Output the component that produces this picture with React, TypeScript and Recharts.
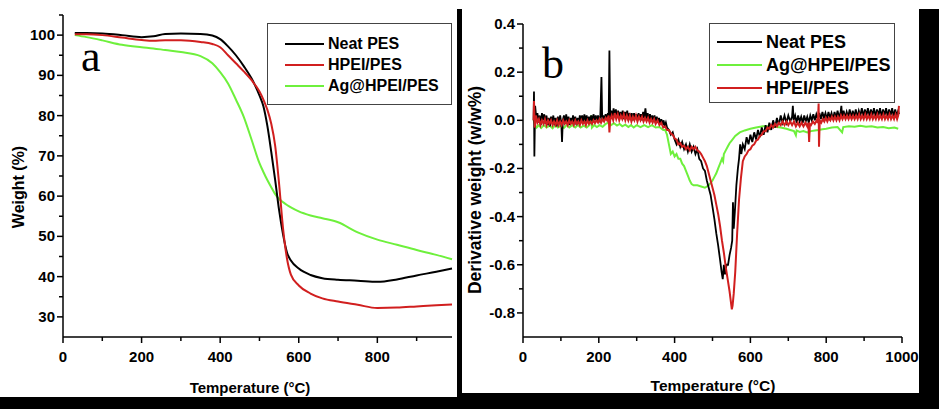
import { LineChart, Line, XAxis, YAxis, Legend } from "recharts";

// TGA (panel a)
const tgaTemp = [30, 60, 100, 150, 200, 230, 260, 300, 350, 380, 400, 420, 440, 460, 480, 500, 510, 520, 530, 540, 550, 560, 570, 580, 600, 630, 660, 700, 750, 800, 850, 900, 950, 990];
const tgaNeat = [100.5, 100.5, 100.4, 100.0, 99.5, 99.7, 100.3, 100.4, 100.3, 99.9, 99.0, 97.2, 95.0, 92.3, 89.2, 85.0, 82.3, 77.5, 71.0, 64.0, 56.5, 50.5, 46.0, 44.0, 42.0, 40.4, 39.6, 39.2, 39.0, 38.7, 39.3, 40.3, 41.2, 42.0];
const tgaHpei = [100.2, 100.2, 100.0, 99.4, 98.8, 98.6, 98.7, 98.7, 98.3, 97.8, 97.0, 95.0, 93.0, 91.0, 88.8, 86.0, 84.0, 81.5, 78.0, 72.5, 63.0, 52.0, 44.5, 40.5, 37.8, 35.8, 34.6, 33.8, 33.0, 32.2, 32.3, 32.6, 32.9, 33.1];
const tgaAg = [100.0, 99.5, 98.7, 97.6, 97.0, 96.7, 96.3, 95.8, 94.8, 93.0, 90.8, 88.0, 84.0, 79.7, 74.0, 68.2, 66.0, 64.0, 62.2, 60.5, 59.3, 58.5, 57.8, 57.2, 56.2, 55.2, 54.5, 53.5, 51.0, 49.2, 47.9, 46.6, 45.4, 44.3];

// DTG (panel b), [temperature, derivative]
const dtgNeat = [[28, 0.0], [29, 0.12], [30, -0.15], [32, 0.06], [35, 0.01], [38, 0.03], [41, -0.01], [44, 0.02], [47, -0.02], [50, 0.03], [53, 0.0], [56, 0.025], [59, -0.015], [62, 0.02], [65, -0.02], [68, 0.01], [71, -0.025], [74, 0.015], [77, -0.01], [80, 0.02], [83, -0.02], [86, 0.01], [89, -0.025], [92, 0.015], [95, -0.015], [98, 0.02], [101, -0.01], [103, -0.09], [105, 0.0], [108, 0.02], [111, -0.015], [114, 0.025], [117, -0.01], [120, 0.015], [123, -0.02], [126, 0.01], [129, -0.015], [132, 0.02], [135, -0.01], [138, 0.015], [141, -0.02], [144, 0.01], [147, -0.015], [150, 0.02], [153, -0.005], [156, 0.02], [159, -0.01], [162, 0.025], [165, -0.005], [168, 0.02], [171, -0.01], [174, 0.015], [177, 0.0], [180, 0.02], [183, -0.005], [186, 0.025], [189, 0.0], [192, 0.02], [195, -0.005], [198, 0.02], [201, 0.0], [204, 0.015], [207, 0.18], [209, 0.0], [212, 0.02], [215, 0.0], [218, 0.025], [221, 0.005], [224, 0.03], [226, 0.0], [228, 0.29], [230, 0.01], [233, 0.04], [236, 0.01], [239, 0.05], [242, 0.015], [245, 0.045], [248, 0.01], [251, 0.04], [254, 0.005], [257, 0.035], [260, 0.01], [263, 0.04], [266, 0.005], [269, 0.035], [272, 0.01], [275, 0.04], [278, 0.0], [281, 0.03], [284, 0.005], [287, 0.03], [290, 0.0], [293, 0.03], [296, 0.005], [299, 0.025], [302, 0.0], [305, 0.03], [308, 0.005], [311, 0.025], [314, 0.0], [317, 0.035], [320, 0.01], [323, 0.05], [326, 0.005], [329, 0.03], [332, 0.0], [335, 0.025], [338, 0.0], [341, 0.02], [344, -0.005], [347, 0.02], [350, -0.01], [353, 0.015], [356, -0.01], [359, 0.01], [362, -0.015], [365, 0.005], [368, -0.02], [371, 0.0], [374, -0.025], [377, -0.01], [380, -0.03], [385, -0.04], [390, -0.06], [395, -0.05], [400, -0.08], [405, -0.1], [410, -0.08], [415, -0.11], [420, -0.09], [425, -0.12], [430, -0.1], [435, -0.13], [440, -0.1], [445, -0.13], [450, -0.11], [455, -0.14], [460, -0.12], [465, -0.16], [470, -0.17], [475, -0.2], [480, -0.21], [485, -0.25], [490, -0.28], [495, -0.31], [500, -0.36], [505, -0.41], [510, -0.47], [515, -0.52], [520, -0.58], [524, -0.63], [527, -0.66], [530, -0.6], [533, -0.64], [537, -0.6], [541, -0.6], [545, -0.56], [549, -0.53], [552, -0.5], [554, -0.34], [556, -0.45], [559, -0.38], [563, -0.27], [567, -0.2], [570, -0.16], [573, -0.1], [576, -0.14], [580, -0.1], [585, -0.12], [590, -0.07], [595, -0.1], [600, -0.06], [605, -0.09], [610, -0.05], [615, -0.08], [620, -0.04], [625, -0.07], [630, -0.03], [635, -0.06], [640, -0.02], [645, -0.05], [650, -0.01], [655, -0.04], [660, 0.0], [665, -0.03], [670, 0.01], [675, -0.02], [680, 0.02], [685, -0.01], [690, 0.02], [695, -0.01], [700, 0.02], [705, -0.005], [710, 0.015], [712, 0.06], [714, 0.0], [718, 0.02], [722, -0.01], [726, 0.02], [730, -0.005], [734, 0.015], [738, -0.01], [742, 0.02], [746, -0.005], [750, 0.015], [754, -0.01], [758, 0.02], [762, 0.0], [766, 0.025], [770, 0.0], [774, 0.025], [778, 0.005], [782, 0.03], [786, 0.005], [790, 0.035], [794, 0.01], [798, 0.03], [802, 0.005], [806, 0.035], [810, 0.01], [814, 0.03], [818, 0.005], [822, 0.035], [826, 0.01], [830, 0.04], [834, 0.01], [838, 0.035], [840, 0.06], [842, 0.015], [846, 0.04], [850, 0.01], [854, 0.035], [858, 0.015], [862, 0.045], [866, 0.01], [870, 0.04], [874, 0.015], [878, 0.045], [882, 0.01], [886, 0.04], [890, 0.02], [894, 0.05], [898, 0.015], [902, 0.045], [906, 0.02], [910, 0.05], [914, 0.015], [918, 0.045], [922, 0.02], [926, 0.05], [930, 0.015], [934, 0.045], [938, 0.02], [942, 0.05], [946, 0.015], [950, 0.045], [954, 0.02], [958, 0.05], [962, 0.015], [966, 0.045], [970, 0.02], [974, 0.05], [978, 0.015], [982, 0.045], [986, 0.02], [990, 0.04], [992, 0.025]];
const dtgHpei = [[28, 0.0], [29, 0.08], [31, -0.03], [34, 0.02], [38, -0.01], [42, 0.005], [46, -0.02], [50, 0.0], [54, -0.015], [58, 0.005], [62, -0.02], [66, 0.0], [70, -0.015], [74, 0.0], [78, -0.02], [82, -0.005], [86, -0.02], [90, 0.0], [94, -0.02], [98, -0.005], [102, -0.02], [106, 0.0], [110, -0.015], [114, -0.005], [118, -0.02], [122, 0.0], [126, -0.015], [130, -0.005], [134, -0.02], [138, 0.0], [142, -0.015], [146, -0.005], [150, -0.02], [154, 0.0], [158, -0.015], [162, -0.005], [166, -0.02], [170, 0.0], [174, -0.015], [178, -0.005], [182, -0.015], [186, 0.0], [190, -0.012], [194, 0.0], [198, -0.01], [202, 0.005], [206, -0.01], [210, 0.005], [214, -0.005], [218, 0.01], [222, 0.0], [226, 0.02], [228, -0.05], [230, 0.0], [234, 0.02], [238, 0.0], [242, 0.03], [246, 0.005], [250, 0.025], [254, 0.0], [258, 0.02], [262, 0.005], [266, 0.025], [270, 0.0], [274, 0.02], [278, 0.0], [282, 0.02], [286, -0.005], [290, 0.015], [294, 0.0], [298, 0.02], [302, -0.005], [306, 0.015], [310, 0.0], [314, 0.015], [318, -0.005], [322, 0.01], [326, -0.005], [330, 0.01], [334, -0.01], [338, 0.005], [342, -0.01], [346, 0.005], [350, -0.015], [355, 0.0], [360, -0.02], [365, -0.01], [370, -0.03], [375, -0.025], [380, -0.04], [385, -0.04], [390, -0.055], [395, -0.06], [400, -0.075], [405, -0.08], [410, -0.1], [415, -0.095], [420, -0.11], [425, -0.105], [430, -0.12], [435, -0.11], [440, -0.125], [445, -0.11], [450, -0.12], [455, -0.11], [460, -0.125], [465, -0.13], [470, -0.14], [475, -0.155], [480, -0.17], [485, -0.19], [490, -0.22], [495, -0.25], [500, -0.28], [505, -0.31], [510, -0.35], [515, -0.39], [520, -0.44], [525, -0.5], [530, -0.55], [535, -0.61], [540, -0.66], [545, -0.71], [549, -0.76], [551, -0.785], [553, -0.77], [556, -0.72], [560, -0.63], [565, -0.47], [570, -0.33], [575, -0.24], [580, -0.17], [585, -0.15], [590, -0.14], [595, -0.125], [600, -0.12], [605, -0.105], [610, -0.1], [615, -0.085], [620, -0.08], [625, -0.065], [630, -0.06], [635, -0.045], [640, -0.045], [645, -0.03], [650, -0.035], [655, -0.02], [660, -0.03], [665, -0.015], [670, -0.025], [675, -0.01], [680, -0.02], [685, -0.005], [690, -0.02], [695, -0.005], [700, -0.02], [705, -0.005], [710, -0.02], [715, -0.005], [720, -0.025], [725, -0.01], [730, -0.025], [735, -0.01], [740, -0.025], [745, -0.01], [750, -0.025], [753, -0.01], [755, -0.09], [757, -0.015], [760, -0.02], [765, -0.005], [770, -0.015], [775, 0.0], [778, -0.01], [780, 0.07], [781, -0.11], [783, 0.0], [787, -0.01], [791, 0.005], [795, -0.005], [799, 0.01], [803, -0.005], [807, 0.01], [811, 0.0], [815, 0.015], [819, 0.0], [823, 0.015], [827, 0.0], [831, 0.015], [835, 0.0], [839, 0.02], [843, 0.005], [847, 0.02], [851, 0.005], [855, 0.02], [859, 0.005], [863, 0.02], [867, 0.005], [871, 0.02], [875, 0.005], [879, 0.02], [883, 0.005], [887, 0.025], [891, 0.005], [895, 0.02], [899, 0.005], [903, 0.025], [907, 0.005], [911, 0.02], [915, 0.005], [919, 0.025], [923, 0.005], [927, 0.02], [931, 0.005], [935, 0.025], [939, 0.005], [943, 0.02], [947, 0.005], [951, 0.025], [955, 0.005], [959, 0.02], [963, 0.005], [967, 0.025], [971, 0.005], [975, 0.02], [979, 0.005], [983, 0.025], [987, 0.005], [990, 0.02], [992, 0.06]];
const dtgAg = [[28, 0.0], [32, -0.02], [36, -0.03], [42, -0.02], [48, -0.032], [55, -0.02], [62, -0.03], [70, -0.022], [78, -0.033], [85, -0.02], [92, -0.03], [100, -0.022], [108, -0.032], [115, -0.02], [122, -0.03], [130, -0.02], [138, -0.03], [145, -0.02], [152, -0.03], [160, -0.022], [168, -0.03], [175, -0.02], [180, 0.02], [182, -0.03], [188, -0.02], [195, -0.028], [202, -0.02], [210, -0.027], [218, -0.015], [225, -0.01], [232, -0.02], [240, -0.012], [248, -0.022], [255, -0.015], [262, -0.025], [270, -0.018], [278, -0.028], [285, -0.02], [292, -0.03], [300, -0.02], [310, -0.028], [320, -0.02], [330, -0.028], [340, -0.02], [350, -0.03], [360, -0.028], [370, -0.04], [375, -0.04], [380, -0.06], [385, -0.1], [390, -0.14], [395, -0.13], [400, -0.15], [405, -0.14], [410, -0.16], [415, -0.16], [420, -0.18], [425, -0.19], [430, -0.21], [435, -0.23], [440, -0.25], [445, -0.265], [450, -0.27], [460, -0.27], [470, -0.275], [480, -0.28], [490, -0.27], [500, -0.25], [505, -0.235], [510, -0.22], [515, -0.2], [520, -0.18], [525, -0.16], [528, -0.17], [530, -0.14], [535, -0.125], [540, -0.11], [545, -0.095], [550, -0.085], [560, -0.065], [572, -0.05], [585, -0.042], [600, -0.035], [615, -0.03], [633, -0.025], [650, -0.025], [665, -0.027], [680, -0.03], [695, -0.035], [705, -0.04], [715, -0.045], [720, -0.062], [722, -0.042], [730, -0.048], [740, -0.045], [750, -0.05], [760, -0.045], [770, -0.042], [780, -0.04], [790, -0.037], [800, -0.035], [815, -0.03], [830, -0.028], [842, -0.05], [845, -0.028], [860, -0.025], [875, -0.027], [890, -0.023], [905, -0.027], [920, -0.025], [935, -0.03], [950, -0.028], [965, -0.033], [980, -0.03], [990, -0.035]];

const xTicksA = [0, 100, 200, 300, 400, 500, 600, 700, 800, 900];
const xTicksB = [0, 100, 200, 300, 400, 500, 600, 700, 800, 900, 1000];
const yTicksA = [30, 35, 40, 45, 50, 55, 60, 65, 70, 75, 80, 85, 90, 95, 100, 105];
const yTicksB = [-0.8, -0.7, -0.6, -0.5, -0.4, -0.3, -0.2, -0.1, 0, 0.1, 0.2, 0.3, 0.4];

const BLACK = "#000000";
const RED = "#d11f1f";
const GREEN = "#6ef03c";
const FONT = '"Liberation Sans", Arial, sans-serif';

const tgaRows = tgaTemp.map((t, i) => ({ t, neat: tgaNeat[i], hpei: tgaHpei[i], ag: tgaAg[i] }));
const toRows = (pts: number[][]) => pts.map(([t, v]) => ({ t, v }));

const XTick = (props: any) => {
  const { x, y, payload } = props;
  const major = payload.value % 200 === 0;
  return (
    <g>
      <line x1={x} x2={x} y1={y} y2={y + (major ? 6 : 4)} stroke="#000" strokeWidth={1.5} />
      {major && (
        <text x={x} y={y + 25} textAnchor="middle" fontFamily={FONT} fontWeight="bold" fontSize={15} fill="#000">
          {payload.value}
        </text>
      )}
    </g>
  );
};

const YTick = (props: any) => {
  const { x, y, payload, decimals } = props;
  const v = payload.value;
  const major = decimals ? Math.round(v * 10) % 2 === 0 : v % 10 === 0;
  return (
    <g>
      <line x1={x - (major ? 6 : 4)} x2={x} y1={y} y2={y} stroke="#000" strokeWidth={1.5} />
      {major && (
        <text x={x - 8} y={y + 5} textAnchor="end" fontFamily={FONT} fontWeight="bold" fontSize={15} fill="#000">
          {decimals ? v.toFixed(1) : v}
        </text>
      )}
    </g>
  );
};

const legendBox = (items: { name: string; color: string }[], size: number, lineW: number, rowH: number, padL: number, padT: number) => () => (
  <div style={{ border: "1.5px solid #444", background: "#fff", padding: `${padT}px 0 0 ${padL}px`, boxSizing: "border-box", width: "100%", height: "100%" }}>
    {items.map((it) => (
      <div key={it.name} style={{ display: "flex", alignItems: "center", height: rowH }}>
        <div style={{ width: lineW, height: 2, background: it.color, marginRight: 4 }} />
        <span style={{ fontFamily: FONT, fontWeight: "bold", fontSize: size, color: "#000", lineHeight: 1 }}>{it.name}</span>
      </div>
    ))}
  </div>
);

const legendA = [
  { name: "Neat PES", color: BLACK },
  { name: "HPEI/PES", color: RED },
  { name: "Ag@HPEI/PES", color: GREEN },
];
const legendB = [
  { name: "Neat PES", color: BLACK },
  { name: "Ag@HPEI/PES", color: GREEN },
  { name: "HPEI/PES", color: RED },
];

const axisTitle = (x: number, y: number, text: string, size: number, rotate = false) => () => (
  <text
    x={x}
    y={y}
    textAnchor="middle"
    dominantBaseline="central"
    transform={rotate ? `rotate(-90 ${x} ${y})` : undefined}
    fontFamily={FONT}
    fontWeight="bold"
    fontSize={size}
    fill="#000"
  >
    {text}
  </text>
);

const letter = (left: number, top: number, ch: string) => (
  <div style={{ position: "absolute", left, top, fontFamily: '"Liberation Serif", "Times New Roman", serif', fontSize: 44, lineHeight: 1, color: "#000" }}>
    {ch}
  </div>
);

export default function App() {
  return (
    <div style={{ position: "fixed", left: 0, top: 0, width: 939, height: 409, background: "#fff", overflow: "hidden" }}>
      <div style={{ position: "absolute", left: 0, top: 0 }}>
        <LineChart width={460} height={397} data={tgaRows} margin={{ top: 15, right: 8, bottom: 0, left: 0 }}>
          <XAxis
            dataKey="t"
            type="number"
            domain={[0, 990]}
            ticks={xTicksA}
            interval={0}
            tickSize={0}
            tickMargin={0}
            tick={<XTick />}
            height={60}
            stroke="#000"
            strokeWidth={1.5}
            label={axisTitle(250, 387, "Temperature (°C)", 15)}
          />
          <YAxis
            type="number"
            domain={[25, 105]}
            ticks={yTicksA}
            interval={0}
            tickSize={0}
            tickMargin={0}
            tick={<YTick />}
            width={63}
            stroke="#000"
            strokeWidth={1.5}
            label={axisTitle(18, 187, "Weight (%)", 16, true)}
          />
          <Legend
            layout="vertical"
            align="center"
            verticalAlign="middle"
            content={legendBox(legendA, 16, 39, 21, 17, 9)}
            wrapperStyle={{ left: 267, top: 23, width: 185, height: 82 }}
          />
          <Line type="monotone" dataKey="ag" stroke={GREEN} strokeWidth={2} dot={false} isAnimationActive={false} />
          <Line type="monotone" dataKey="neat" stroke={BLACK} strokeWidth={2} dot={false} isAnimationActive={false} />
          <Line type="monotone" dataKey="hpei" stroke={RED} strokeWidth={2} dot={false} isAnimationActive={false} />
        </LineChart>
        {letter(81, 35, "a")}
      </div>

      <div style={{ position: "absolute", left: 462, top: 0 }}>
        <LineChart width={457} height={393} margin={{ top: 24, right: 17, bottom: 0, left: 0 }}>
          <XAxis
            dataKey="t"
            type="number"
            domain={[0, 1000]}
            ticks={xTicksB}
            interval={0}
            tickSize={0}
            tickMargin={0}
            tick={<XTick />}
            height={56}
            stroke="#000"
            strokeWidth={1.5}
            allowDuplicatedCategory={false}
            label={axisTitle(251, 385, "Temperature (°C)", 15.5)}
          />
          <YAxis
            type="number"
            domain={[-0.9, 0.4]}
            ticks={yTicksB}
            interval={0}
            tickSize={0}
            tickMargin={0}
            tick={<YTick decimals />}
            width={61}
            stroke="#000"
            strokeWidth={1.5}
            label={axisTitle(13, 190, "Derivative weight (w/w%)", 17.5, true)}
          />
          <Legend
            layout="vertical"
            align="center"
            verticalAlign="middle"
            content={legendBox(legendB, 18, 45, 23, 7, 6)}
            wrapperStyle={{ left: 247, top: 23, width: 186, height: 80 }}
          />
          <Line data={toRows(dtgAg)} type="linear" dataKey="v" stroke={GREEN} strokeWidth={2} dot={false} isAnimationActive={false} />
          <Line data={toRows(dtgNeat)} type="linear" dataKey="v" stroke={BLACK} strokeWidth={1.8} dot={false} isAnimationActive={false} />
          <Line data={toRows(dtgHpei)} type="linear" dataKey="v" stroke={RED} strokeWidth={2} dot={false} isAnimationActive={false} />
        </LineChart>
        {letter(80, 42, "b")}
      </div>

      <div style={{ position: "absolute", left: 457, top: 9, width: 5, height: 400, background: "#000" }} />
      <div style={{ position: "absolute", left: 919, top: 9, width: 20, height: 400, background: "#000" }} />
      <div style={{ position: "absolute", left: 0, top: 397, width: 939, height: 12, background: "#000" }} />
      <div style={{ position: "absolute", left: 462, top: 393, width: 477, height: 16, background: "#000" }} />
    </div>
  );
}
